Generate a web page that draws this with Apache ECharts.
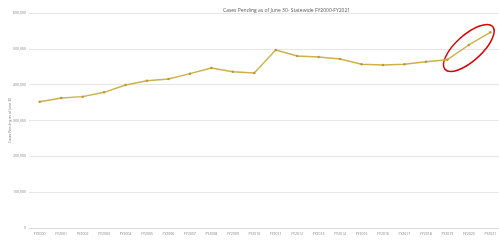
<!DOCTYPE html>
<html><head><meta charset="utf-8">
<script src="https://cdn.jsdelivr.net/npm/echarts@6/dist/echarts.min.js"></script>
<style>html,body{margin:0;padding:0;background:#fff}#c{width:499px;height:240px}</style>
</head><body><div id="c"></div>
<script>
const categories = ['FY2000','FY2001','FY2002','FY2003','FY2004','FY2005','FY2006','FY2007','FY2008','FY2009','FY2010','FY2011','FY2012','FY2013','FY2014','FY2015','FY2016','FY2017','FY2018','FY2019','FY2020','FY2021'];
const casesPending = [352500,362800,366500,378700,399100,411100,415900,430700,446600,436200,432600,496800,480000,477300,471700,456900,454900,456900,464100,469700,510800,546200];
const yTicks = [0,100000,200000,300000,400000,500000,600000];
const titleText = 'Cases Pending as of June 30- Statewide FY2000-FY2021';
const yAxisName = 'Cases Pending as of June 30';

const chart = echarts.init(document.getElementById('c'));
const fmt = v => v === 0 ? '0' : v.toLocaleString('en-US');
chart.setOption({
  animation: false,
  title: { text: titleText, left: 218, top: 3, textStyle: { fontSize: 5, fontWeight: 'normal', color: '#595959', fontFamily: 'Open Sans' } },
  grid: { left: 29, top: 13, width: 472, bottom: 12, containLabel: false, outerBoundsMode: 'none' },
  xAxis: {
    type: 'category', data: categories, boundaryGap: true,
    axisLine: { lineStyle: { color: '#d9d9d9', width: 1 } },
    axisTick: { show: false },
    axisLabel: { fontSize: 3.5, color: '#7f7f7f', margin: 4, interval: 0, fontFamily: 'Open Sans' }
  },
  yAxis: {
    type: 'value', min: yTicks[0], max: yTicks[yTicks.length-1], interval: 100000,
    name: yAxisName, nameLocation: 'middle', nameGap: 17, nameRotate: 90, nameMoveOverlap: false,
    nameTextStyle: { fontSize: 3.5, color: '#7f7f7f', fontFamily: 'Open Sans' },
    axisLine: { show: false }, axisTick: { show: false },
    axisLabel: { fontSize: 3.5, color: '#7f7f7f', margin: 3, formatter: fmt, fontFamily: 'Open Sans' },
    splitLine: { lineStyle: { color: '#e6e6e6', width: 1 } }
  },
  series: [{
    type: 'line', data: casesPending,
    lineStyle: { color: '#cfb04a', width: 1.4 },
    itemStyle: { color: '#b89a35' },
    symbol: 'circle', symbolSize: 2.5
  }]
});
const p1 = chart.convertToPixel({ seriesIndex: 0 }, [categories.length - 2, casesPending[casesPending.length - 2]]);
const cx = p1[0], cy = p1[1] + 3;
chart.setOption({
  graphic: [{
    type: 'ellipse', x: cx, y: cy, rotation: 42 * Math.PI / 180,
    shape: { cx: 0, cy: 0, rx: 32, ry: 13 },
    style: { fill: 'none', stroke: '#e00000', lineWidth: 1.5 }
  }]
});
</script></body></html>
